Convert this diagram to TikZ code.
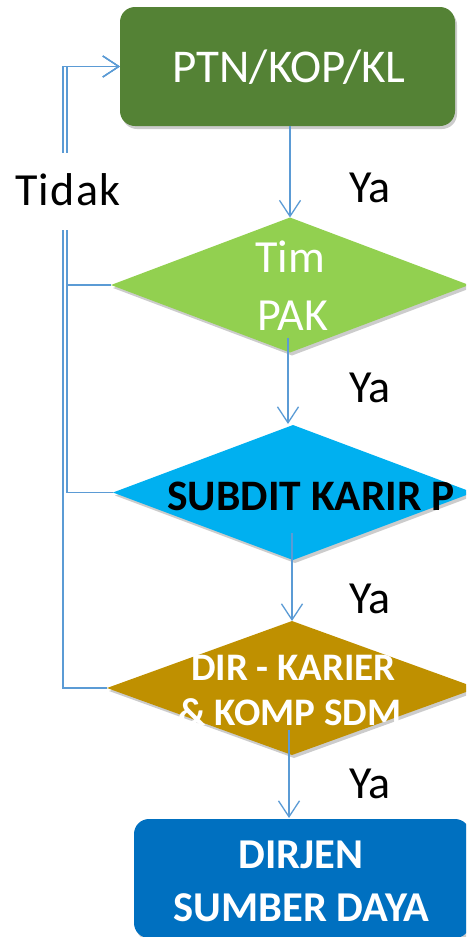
\documentclass[tikz,border=0pt]{standalone}
\usepackage{fontspec}
\setmainfont{Carlito}
\newfontfamily\widefont[LetterSpace=3]{Carlito}
\usetikzlibrary{shapes.geometric,arrows.meta,shadows}
\definecolor{boxgreen}{HTML}{548235}
\definecolor{limegreen}{HTML}{92D050}
\definecolor{skyblue}{HTML}{00B0F0}
\definecolor{gold}{HTML}{BF9000}
\definecolor{darkblue}{HTML}{0070C0}
\definecolor{linecol}{HTML}{5B9BD5}
\begin{document}
\begin{tikzpicture}[x=1pt,y=-1pt,
  shade/.style={drop shadow={shadow xshift=2pt,shadow yshift=-3pt,opacity=0.2,fill=black}},
  procbox/.style={rectangle,rounded corners=15pt,inner sep=0pt,outer sep=0pt,shade},
  decbox/.style={diamond,inner sep=0pt,outer sep=0pt,shade},
  conn/.style={draw=linecol,line width=1.3pt,-{Straight Barb[length=16pt,width=21pt]}},
  lbl/.style={inner sep=0pt,anchor=base,font=\fontsize{46}{55}\selectfont},
  whitelbl/.style={lbl,text=white},
  boldlbl/.style={inner sep=0pt,anchor=base,font=\bfseries\fontsize{42.5}{50}\selectfont}]
\useasboundingbox (0,0) rectangle (466,937);
\clip (0,0) rectangle (466,937);
% shapes
\node[procbox,fill=boxgreen,minimum width=335pt,minimum height=119pt] (top) at (287.5,66.5) {};
\node[decbox,fill=limegreen,minimum width=358pt,minimum height=135pt] (d1) at (290,285) {};
\node[decbox,fill=skyblue,minimum width=360pt,minimum height=135pt] (d2) at (293,492.5) {};
\node[decbox,fill=gold,minimum width=370pt,minimum height=134pt] (d3) at (292,688) {};
\node[procbox,fill=darkblue,minimum width=336pt,minimum height=119pt] (bot) at (302,878.5) {};
% helper coordinates for the return lines
\coordinate (inner) at (67,0);
\coordinate (outer) at (63,0);
% yes connectors
\draw[conn] (top.south -| d1.north) -- (d1.north);
\draw[conn] ([yshift=15pt]d1.south -| 288,0) -- (288,424);
\draw[conn] ([yshift=27pt]d2.south -| d3.north) -- (d3.north);
\draw[conn] ([yshift=25pt]d3.south -| 289,0) -- (289,818);
% no connectors
\draw[conn] (d1.west) -- (d1.west -| inner) |- (top.west);
\draw[conn] (d2.west) -- (d2.west -| inner) |- (top.west);
\draw[conn] (d3.west) -- (d3.west -| outer) |- (top.west);
% texts
\node[whitelbl,font=\fontsize{47}{56}\selectfont] (ttop) at (289,82) {PTN/KOP/KL};
\node[whitelbl] (tim) at (290,272) {Tim};
\node[whitelbl] (pak) at (292.5,330) {PAK};
\node[boldlbl,font=\bfseries\fontsize{43.5}{52}\selectfont] (subdit) at (311,510) {SUBDIT KARIR P};
\node[boldlbl,text=white,font=\bfseries\fontsize{39}{47}\selectfont] (dir1) at (293.5,680) {DIR - KARIER};
\node[boldlbl,text=white,font=\bfseries\fontsize{39}{47}\selectfont] (dir2) at (290,725) {\& KOMP SDM};
\node[boldlbl,text=white] (dirjen) at (301,868) {DIRJEN};
\node[boldlbl,text=white] (sumber) at (301.5,921) {SUMBER DAYA};
\node[lbl] (ya1) at (370,202) {Ya};
\node[lbl] (ya2) at (370,402) {Ya};
\node[lbl] (ya3) at (370,613) {Ya};
\node[lbl] (ya4) at (370,798) {Ya};
\node[lbl,font=\widefont\fontsize{46}{55}\selectfont,fill=white,text height=52pt,text depth=25pt] (tidak) at (68,205) {Tidak};
\end{tikzpicture}
\end{document}
